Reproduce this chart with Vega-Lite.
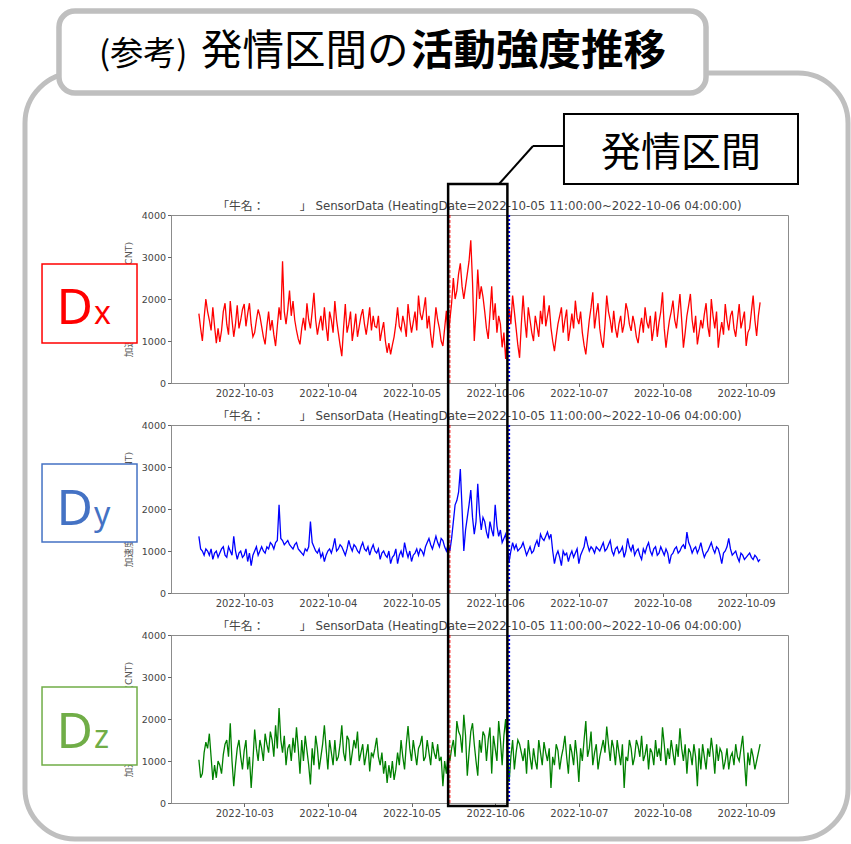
{
  "$schema": "https://vega.github.io/schema/vega-lite/v6.json",
  "background": "white",
  "padding": 0,
  "spacing": 42,
  "bounds": "flush",
  "config": {
    "view": {"stroke": "#8c8c8c", "strokeWidth": 1},
    "axis": {"labelFont": "DejaVu Sans", "labelFontSize": 9.5, "labelColor": "#444", "tickColor": "#666", "tickSize": 3.5, "domain": false, "gridColor": "#e2e2e2", "gridWidth": 0.8, "titleFont": "DejaVu Sans, Noto Sans CJK JP", "titleFontSize": 9.5, "titleFontWeight": "normal", "titleColor": "#555", "labelPadding": 2},
    "axisX": {"labelFontSize": 10}
  },
  "data": {"values": [
    {"t":"2022-10-02T11:00","dx":1650,"dy":1350,"dz":1030},{"t":"2022-10-02T11:30","dx":1300,"dy":1050,"dz":600},
    {"t":"2022-10-02T12:00","dx":1000,"dy":1000,"dz":700},{"t":"2022-10-02T12:30","dx":1550,"dy":900,"dz":1200},
    {"t":"2022-10-02T13:00","dx":2000,"dy":1050,"dz":1450},{"t":"2022-10-02T13:30","dx":1700,"dy":1000,"dz":1300},
    {"t":"2022-10-02T14:00","dx":1500,"dy":900,"dz":1650},{"t":"2022-10-02T14:30","dx":1250,"dy":1050,"dz":1100},
    {"t":"2022-10-02T15:00","dx":1800,"dy":800,"dz":550},{"t":"2022-10-02T15:30","dx":1350,"dy":950,"dz":900},
    {"t":"2022-10-02T16:00","dx":950,"dy":1000,"dz":600},{"t":"2022-10-02T16:30","dx":1300,"dy":850,"dz":1000},
    {"t":"2022-10-02T17:00","dx":980,"dy":950,"dz":900},{"t":"2022-10-02T17:30","dx":1250,"dy":1050,"dz":700},
    {"t":"2022-10-02T18:00","dx":1700,"dy":1100,"dz":1150},{"t":"2022-10-02T18:30","dx":1900,"dy":900,"dz":1400},
    {"t":"2022-10-02T19:00","dx":1400,"dy":850,"dz":1500},{"t":"2022-10-02T19:30","dx":1150,"dy":1100,"dz":1100},
    {"t":"2022-10-02T20:00","dx":1950,"dy":1000,"dz":1900},{"t":"2022-10-02T20:30","dx":1500,"dy":900,"dz":1000},
    {"t":"2022-10-02T21:00","dx":1100,"dy":1350,"dz":400},{"t":"2022-10-02T21:30","dx":1400,"dy":1000,"dz":900},
    {"t":"2022-10-02T22:00","dx":1850,"dy":800,"dz":1300},{"t":"2022-10-02T22:30","dx":1300,"dy":950,"dz":1500},
    {"t":"2022-10-02T23:00","dx":1500,"dy":1000,"dz":1100},{"t":"2022-10-02T23:30","dx":1750,"dy":850,"dz":800},
    {"t":"2022-10-03T00:00","dx":1880,"dy":900,"dz":1250},{"t":"2022-10-03T00:30","dx":1350,"dy":1050,"dz":1500},
    {"t":"2022-10-03T01:00","dx":1650,"dy":750,"dz":800},{"t":"2022-10-03T01:30","dx":1900,"dy":950,"dz":1100},
    {"t":"2022-10-03T02:00","dx":1400,"dy":650,"dz":360},{"t":"2022-10-03T02:30","dx":1100,"dy":900,"dz":1000},
    {"t":"2022-10-03T03:00","dx":1200,"dy":1000,"dz":1750},{"t":"2022-10-03T03:30","dx":1500,"dy":1100,"dz":1300},
    {"t":"2022-10-03T04:00","dx":1750,"dy":900,"dz":1000},{"t":"2022-10-03T04:30","dx":1600,"dy":1000,"dz":1500},
    {"t":"2022-10-03T05:00","dx":1350,"dy":1100,"dz":1300},{"t":"2022-10-03T05:30","dx":1100,"dy":1000,"dz":1000},
    {"t":"2022-10-03T06:00","dx":920,"dy":950,"dz":1650},{"t":"2022-10-03T06:30","dx":1350,"dy":1100,"dz":1400},
    {"t":"2022-10-03T07:00","dx":1700,"dy":1050,"dz":1200},{"t":"2022-10-03T07:30","dx":1250,"dy":1200,"dz":1700},
    {"t":"2022-10-03T08:00","dx":1500,"dy":1150,"dz":1500},{"t":"2022-10-03T08:30","dx":1150,"dy":1050,"dz":1100},
    {"t":"2022-10-03T09:00","dx":880,"dy":1200,"dz":1850},{"t":"2022-10-03T09:30","dx":1350,"dy":1250,"dz":1300},
    {"t":"2022-10-03T10:00","dx":1800,"dy":2100,"dz":2260},{"t":"2022-10-03T10:30","dx":1500,"dy":1300,"dz":1500},
    {"t":"2022-10-03T11:00","dx":2900,"dy":1250,"dz":1200},{"t":"2022-10-03T11:30","dx":1700,"dy":1150,"dz":1600},
    {"t":"2022-10-03T12:00","dx":1400,"dy":1200,"dz":900},{"t":"2022-10-03T12:30","dx":1750,"dy":1250,"dz":1300},
    {"t":"2022-10-03T13:00","dx":2200,"dy":1150,"dz":1400},{"t":"2022-10-03T13:30","dx":1600,"dy":1100,"dz":1000},
    {"t":"2022-10-03T14:00","dx":1950,"dy":1050,"dz":1550},{"t":"2022-10-03T14:30","dx":1500,"dy":1150,"dz":1200},
    {"t":"2022-10-03T15:00","dx":1250,"dy":1200,"dz":1800},{"t":"2022-10-03T15:30","dx":1050,"dy":1050,"dz":1300},
    {"t":"2022-10-03T16:00","dx":920,"dy":1000,"dz":700},{"t":"2022-10-03T16:30","dx":1300,"dy":950,"dz":1500},
    {"t":"2022-10-03T17:00","dx":1550,"dy":900,"dz":1000},{"t":"2022-10-03T17:30","dx":1250,"dy":1050,"dz":1600},
    {"t":"2022-10-03T18:00","dx":1900,"dy":1000,"dz":1250},{"t":"2022-10-03T18:30","dx":1500,"dy":1100,"dz":900},
    {"t":"2022-10-03T19:00","dx":1300,"dy":1700,"dz":440},{"t":"2022-10-03T19:30","dx":1700,"dy":1200,"dz":1300},
    {"t":"2022-10-03T20:00","dx":2150,"dy":1100,"dz":900},{"t":"2022-10-03T20:30","dx":1500,"dy":1000,"dz":1600},
    {"t":"2022-10-03T21:00","dx":1150,"dy":950,"dz":1300},{"t":"2022-10-03T21:30","dx":1400,"dy":1050,"dz":800},
    {"t":"2022-10-03T22:00","dx":1600,"dy":850,"dz":1100},{"t":"2022-10-03T22:30","dx":1250,"dy":950,"dz":1400},
    {"t":"2022-10-03T23:00","dx":1800,"dy":750,"dz":1850},{"t":"2022-10-03T23:30","dx":1350,"dy":900,"dz":1300},
    {"t":"2022-10-04T00:00","dx":1000,"dy":1000,"dz":800},{"t":"2022-10-04T00:30","dx":1700,"dy":1050,"dz":1500},
    {"t":"2022-10-04T01:00","dx":1500,"dy":950,"dz":1200},{"t":"2022-10-04T01:30","dx":1200,"dy":1100,"dz":900},
    {"t":"2022-10-04T02:00","dx":1950,"dy":1300,"dz":1500},{"t":"2022-10-04T02:30","dx":1500,"dy":1000,"dz":1000},
    {"t":"2022-10-04T03:00","dx":1200,"dy":1050,"dz":1100},{"t":"2022-10-04T03:30","dx":900,"dy":1150,"dz":1400},
    {"t":"2022-10-04T04:00","dx":640,"dy":1100,"dz":1850},{"t":"2022-10-04T04:30","dx":1300,"dy":1000,"dz":1200},
    {"t":"2022-10-04T05:00","dx":1880,"dy":900,"dz":1000},{"t":"2022-10-04T05:30","dx":1200,"dy":1050,"dz":1600},
    {"t":"2022-10-04T06:00","dx":1400,"dy":1250,"dz":1500},{"t":"2022-10-04T06:30","dx":1700,"dy":1100,"dz":900},
    {"t":"2022-10-04T07:00","dx":1000,"dy":1000,"dz":1200},{"t":"2022-10-04T07:30","dx":1300,"dy":1150,"dz":1500},
    {"t":"2022-10-04T08:00","dx":1650,"dy":1100,"dz":1300},{"t":"2022-10-04T08:30","dx":1100,"dy":1000,"dz":1700},
    {"t":"2022-10-04T09:00","dx":1350,"dy":950,"dz":1000},{"t":"2022-10-04T09:30","dx":1600,"dy":1100,"dz":1200},
    {"t":"2022-10-04T10:00","dx":1760,"dy":1200,"dz":1400},{"t":"2022-10-04T10:30","dx":1400,"dy":1050,"dz":900},
    {"t":"2022-10-04T11:00","dx":1150,"dy":1000,"dz":1150},{"t":"2022-10-04T11:30","dx":1450,"dy":1100,"dz":1400},
    {"t":"2022-10-04T12:00","dx":1800,"dy":900,"dz":750},{"t":"2022-10-04T12:30","dx":1250,"dy":1050,"dz":1200},
    {"t":"2022-10-04T13:00","dx":1600,"dy":1150,"dz":1100},{"t":"2022-10-04T13:30","dx":1350,"dy":1000,"dz":1300},
    {"t":"2022-10-04T14:00","dx":1320,"dy":950,"dz":1550},{"t":"2022-10-04T14:30","dx":1600,"dy":1050,"dz":1100},
    {"t":"2022-10-04T15:00","dx":1000,"dy":800,"dz":900},{"t":"2022-10-04T15:30","dx":1250,"dy":950,"dz":1200},
    {"t":"2022-10-04T16:00","dx":1450,"dy":1000,"dz":700},{"t":"2022-10-04T16:30","dx":1000,"dy":900,"dz":1000},
    {"t":"2022-10-04T17:00","dx":720,"dy":850,"dz":480},{"t":"2022-10-04T17:30","dx":950,"dy":1000,"dz":900},
    {"t":"2022-10-04T18:00","dx":680,"dy":700,"dz":600},{"t":"2022-10-04T18:30","dx":900,"dy":850,"dz":1000},
    {"t":"2022-10-04T19:00","dx":1100,"dy":900,"dz":550},{"t":"2022-10-04T19:30","dx":1400,"dy":1050,"dz":800},
    {"t":"2022-10-04T20:00","dx":1800,"dy":700,"dz":1200},{"t":"2022-10-04T20:30","dx":1350,"dy":900,"dz":900},
    {"t":"2022-10-04T21:00","dx":1250,"dy":1000,"dz":1500},{"t":"2022-10-04T21:30","dx":1600,"dy":850,"dz":1100},
    {"t":"2022-10-04T22:00","dx":1400,"dy":1200,"dz":800},{"t":"2022-10-04T22:30","dx":1100,"dy":1000,"dz":1400},
    {"t":"2022-10-04T23:00","dx":1880,"dy":850,"dz":1830},{"t":"2022-10-04T23:30","dx":1500,"dy":1000,"dz":1300},
    {"t":"2022-10-05T00:00","dx":1200,"dy":750,"dz":1000},{"t":"2022-10-05T00:30","dx":1450,"dy":900,"dz":1500},
    {"t":"2022-10-05T01:00","dx":1700,"dy":950,"dz":1200},{"t":"2022-10-05T01:30","dx":1250,"dy":1050,"dz":900},
    {"t":"2022-10-05T02:00","dx":2080,"dy":900,"dz":1300},{"t":"2022-10-05T02:30","dx":1650,"dy":1050,"dz":1400},
    {"t":"2022-10-05T03:00","dx":1500,"dy":1000,"dz":1600},{"t":"2022-10-05T03:30","dx":1750,"dy":900,"dz":1000},
    {"t":"2022-10-05T04:00","dx":2040,"dy":1100,"dz":1100},{"t":"2022-10-05T04:30","dx":1300,"dy":1200,"dz":1500},
    {"t":"2022-10-05T05:00","dx":1600,"dy":1300,"dz":1200},{"t":"2022-10-05T05:30","dx":1150,"dy":1150,"dz":900},
    {"t":"2022-10-05T06:00","dx":840,"dy":1050,"dz":1450},{"t":"2022-10-05T06:30","dx":1300,"dy":1200,"dz":1200},
    {"t":"2022-10-05T07:00","dx":1800,"dy":1350,"dz":1050},{"t":"2022-10-05T07:30","dx":1500,"dy":1200,"dz":1400},
    {"t":"2022-10-05T08:00","dx":1300,"dy":1100,"dz":1000},{"t":"2022-10-05T08:30","dx":1000,"dy":1300,"dz":1100},
    {"t":"2022-10-05T09:00","dx":880,"dy":1250,"dz":400},{"t":"2022-10-05T09:30","dx":1300,"dy":1100,"dz":1000},
    {"t":"2022-10-05T10:00","dx":1720,"dy":1000,"dz":700},{"t":"2022-10-05T10:30","dx":1050,"dy":1150,"dz":1200},
    {"t":"2022-10-05T11:00","dx":1500,"dy":1000,"dz":1000},{"t":"2022-10-05T11:30","dx":1900,"dy":1300,"dz":1300},
    {"t":"2022-10-05T12:00","dx":2500,"dy":1700,"dz":1500},{"t":"2022-10-05T12:30","dx":2000,"dy":2100,"dz":1100},
    {"t":"2022-10-05T13:00","dx":2200,"dy":2200,"dz":1950},{"t":"2022-10-05T13:30","dx":2600,"dy":2400,"dz":1700},
    {"t":"2022-10-05T14:00","dx":2850,"dy":2950,"dz":1600},{"t":"2022-10-05T14:30","dx":2300,"dy":2000,"dz":1200},
    {"t":"2022-10-05T15:00","dx":2000,"dy":1000,"dz":2100},{"t":"2022-10-05T15:30","dx":2300,"dy":1500,"dz":1600},
    {"t":"2022-10-05T16:00","dx":2600,"dy":1800,"dz":650},{"t":"2022-10-05T16:30","dx":2900,"dy":2100,"dz":1200},
    {"t":"2022-10-05T17:00","dx":3400,"dy":2450,"dz":1700},{"t":"2022-10-05T17:30","dx":2400,"dy":1800,"dz":1900},
    {"t":"2022-10-05T18:00","dx":1000,"dy":1400,"dz":1400},{"t":"2022-10-05T18:30","dx":1700,"dy":1700,"dz":1000},
    {"t":"2022-10-05T19:00","dx":2700,"dy":2600,"dz":650},{"t":"2022-10-05T19:30","dx":2000,"dy":1900,"dz":1500},
    {"t":"2022-10-05T20:00","dx":2300,"dy":1500,"dz":1200},{"t":"2022-10-05T20:30","dx":2050,"dy":1800,"dz":1700},
    {"t":"2022-10-05T21:00","dx":1700,"dy":1700,"dz":1600},{"t":"2022-10-05T21:30","dx":1300,"dy":1450,"dz":1000},
    {"t":"2022-10-05T22:00","dx":1050,"dy":1300,"dz":1500},{"t":"2022-10-05T22:30","dx":1650,"dy":1700,"dz":1800},
    {"t":"2022-10-05T23:00","dx":2300,"dy":1500,"dz":700},{"t":"2022-10-05T23:30","dx":1500,"dy":1350,"dz":1600},
    {"t":"2022-10-06T00:00","dx":1900,"dy":2100,"dz":1300},{"t":"2022-10-06T00:30","dx":1200,"dy":1600,"dz":1000},
    {"t":"2022-10-06T01:00","dx":1600,"dy":1350,"dz":1950},{"t":"2022-10-06T01:30","dx":1400,"dy":1500,"dz":1500},
    {"t":"2022-10-06T02:00","dx":850,"dy":1200,"dz":900},{"t":"2022-10-06T02:30","dx":1200,"dy":1300,"dz":1600},
    {"t":"2022-10-06T03:00","dx":570,"dy":1400,"dz":2000},{"t":"2022-10-06T03:30","dx":1100,"dy":1100,"dz":1300},
    {"t":"2022-10-06T04:00","dx":1800,"dy":750,"dz":500},{"t":"2022-10-06T04:30","dx":1400,"dy":1000,"dz":1100},
    {"t":"2022-10-06T05:00","dx":2080,"dy":1200,"dz":1500},{"t":"2022-10-06T05:30","dx":1700,"dy":1050,"dz":800},
    {"t":"2022-10-06T06:00","dx":1300,"dy":1150,"dz":1200},{"t":"2022-10-06T06:30","dx":900,"dy":1000,"dz":1500},
    {"t":"2022-10-06T07:00","dx":600,"dy":1050,"dz":1400},{"t":"2022-10-06T07:30","dx":1400,"dy":1100,"dz":1200},
    {"t":"2022-10-06T08:00","dx":2080,"dy":1200,"dz":1000},{"t":"2022-10-06T08:30","dx":1500,"dy":1050,"dz":1300},
    {"t":"2022-10-06T09:00","dx":1080,"dy":900,"dz":700},{"t":"2022-10-06T09:30","dx":1800,"dy":1000,"dz":1500},
    {"t":"2022-10-06T10:00","dx":1500,"dy":1100,"dz":1100},{"t":"2022-10-06T10:30","dx":1200,"dy":950,"dz":800},
    {"t":"2022-10-06T11:00","dx":1000,"dy":1000,"dz":1300},{"t":"2022-10-06T11:30","dx":1600,"dy":1150,"dz":1000},
    {"t":"2022-10-06T12:00","dx":1350,"dy":1250,"dz":800},{"t":"2022-10-06T12:30","dx":1100,"dy":1100,"dz":1500},
    {"t":"2022-10-06T13:00","dx":1720,"dy":1400,"dz":1200},{"t":"2022-10-06T13:30","dx":1400,"dy":1300,"dz":900},
    {"t":"2022-10-06T14:00","dx":2080,"dy":1250,"dz":1450},{"t":"2022-10-06T14:30","dx":1350,"dy":1350,"dz":1200},
    {"t":"2022-10-06T15:00","dx":1600,"dy":1450,"dz":1000},{"t":"2022-10-06T15:30","dx":1850,"dy":1300,"dz":1300},
    {"t":"2022-10-06T16:00","dx":1320,"dy":1400,"dz":360},{"t":"2022-10-06T16:30","dx":1000,"dy":1000,"dz":1100},
    {"t":"2022-10-06T17:00","dx":760,"dy":700,"dz":900},{"t":"2022-10-06T17:30","dx":1100,"dy":900,"dz":1400},
    {"t":"2022-10-06T18:00","dx":1400,"dy":1000,"dz":1250},{"t":"2022-10-06T18:30","dx":1600,"dy":850,"dz":800},
    {"t":"2022-10-06T19:00","dx":1800,"dy":650,"dz":1100},{"t":"2022-10-06T19:30","dx":1200,"dy":1000,"dz":1300},
    {"t":"2022-10-06T20:00","dx":1500,"dy":900,"dz":1600},{"t":"2022-10-06T20:30","dx":1750,"dy":950,"dz":1100},
    {"t":"2022-10-06T21:00","dx":1000,"dy":750,"dz":700},{"t":"2022-10-06T21:30","dx":1300,"dy":900,"dz":1400},
    {"t":"2022-10-06T22:00","dx":1650,"dy":1000,"dz":1200},{"t":"2022-10-06T22:30","dx":1300,"dy":850,"dz":900},
    {"t":"2022-10-06T23:00","dx":1960,"dy":950,"dz":1500},{"t":"2022-10-06T23:30","dx":1550,"dy":1050,"dz":1100},
    {"t":"2022-10-07T00:00","dx":1400,"dy":700,"dz":500},{"t":"2022-10-07T00:30","dx":1700,"dy":900,"dz":1300},
    {"t":"2022-10-07T01:00","dx":1200,"dy":1000,"dz":1000},{"t":"2022-10-07T01:30","dx":900,"dy":1100,"dz":1500},
    {"t":"2022-10-07T02:00","dx":680,"dy":1350,"dz":1950},{"t":"2022-10-07T02:30","dx":1100,"dy":1150,"dz":1100},
    {"t":"2022-10-07T03:00","dx":1500,"dy":1000,"dz":1300},{"t":"2022-10-07T03:30","dx":1800,"dy":1100,"dz":1700},
    {"t":"2022-10-07T04:00","dx":2160,"dy":1050,"dz":900},{"t":"2022-10-07T04:30","dx":1300,"dy":950,"dz":1200},
    {"t":"2022-10-07T05:00","dx":1640,"dy":1100,"dz":1400},{"t":"2022-10-07T05:30","dx":1900,"dy":1050,"dz":800},
    {"t":"2022-10-07T06:00","dx":1300,"dy":1000,"dz":1100},{"t":"2022-10-07T06:30","dx":1000,"dy":1100,"dz":1300},
    {"t":"2022-10-07T07:00","dx":840,"dy":1200,"dz":1500},{"t":"2022-10-07T07:30","dx":1400,"dy":1000,"dz":1200},
    {"t":"2022-10-07T08:00","dx":2080,"dy":1050,"dz":1820},{"t":"2022-10-07T08:30","dx":1700,"dy":1150,"dz":1400},
    {"t":"2022-10-07T09:00","dx":1500,"dy":1250,"dz":1000},{"t":"2022-10-07T09:30","dx":1200,"dy":1000,"dz":1500},
    {"t":"2022-10-07T10:00","dx":1720,"dy":900,"dz":1300},{"t":"2022-10-07T10:30","dx":1300,"dy":1050,"dz":900},
    {"t":"2022-10-07T11:00","dx":1080,"dy":1100,"dz":1500},{"t":"2022-10-07T11:30","dx":1400,"dy":950,"dz":1200},
    {"t":"2022-10-07T12:00","dx":1600,"dy":1000,"dz":900},{"t":"2022-10-07T12:30","dx":1200,"dy":1100,"dz":1400},
    {"t":"2022-10-07T13:00","dx":1400,"dy":850,"dz":360},{"t":"2022-10-07T13:30","dx":1900,"dy":1000,"dz":1100},
    {"t":"2022-10-07T14:00","dx":1720,"dy":1300,"dz":1000},{"t":"2022-10-07T14:30","dx":1400,"dy":1100,"dz":1500},
    {"t":"2022-10-07T15:00","dx":1240,"dy":1000,"dz":1300},{"t":"2022-10-07T15:30","dx":1600,"dy":1150,"dz":900},
    {"t":"2022-10-07T16:00","dx":1400,"dy":900,"dz":1100},{"t":"2022-10-07T16:30","dx":1100,"dy":1000,"dz":1500},
    {"t":"2022-10-07T17:00","dx":950,"dy":1050,"dz":1350},{"t":"2022-10-07T17:30","dx":1300,"dy":900,"dz":1100},
    {"t":"2022-10-07T18:00","dx":1550,"dy":800,"dz":1600},{"t":"2022-10-07T18:30","dx":1200,"dy":1050,"dz":1000},
    {"t":"2022-10-07T19:00","dx":1800,"dy":950,"dz":1150},{"t":"2022-10-07T19:30","dx":1450,"dy":1100,"dz":1400},
    {"t":"2022-10-07T20:00","dx":1300,"dy":1200,"dz":800},{"t":"2022-10-07T20:30","dx":1600,"dy":1000,"dz":1300},
    {"t":"2022-10-07T21:00","dx":1000,"dy":900,"dz":1200},{"t":"2022-10-07T21:30","dx":1300,"dy":1050,"dz":900},
    {"t":"2022-10-07T22:00","dx":1700,"dy":1100,"dz":1500},{"t":"2022-10-07T22:30","dx":1100,"dy":900,"dz":1100},
    {"t":"2022-10-07T23:00","dx":1450,"dy":950,"dz":1300},{"t":"2022-10-07T23:30","dx":1700,"dy":1100,"dz":1000},
    {"t":"2022-10-08T00:00","dx":2160,"dy":1000,"dz":1800},{"t":"2022-10-08T00:30","dx":1300,"dy":900,"dz":1400},
    {"t":"2022-10-08T01:00","dx":840,"dy":1050,"dz":900},{"t":"2022-10-08T01:30","dx":1200,"dy":950,"dz":1300},
    {"t":"2022-10-08T02:00","dx":1500,"dy":700,"dz":1050},{"t":"2022-10-08T02:30","dx":1700,"dy":900,"dz":1500},
    {"t":"2022-10-08T03:00","dx":1960,"dy":950,"dz":1200},{"t":"2022-10-08T03:30","dx":1500,"dy":1050,"dz":900},
    {"t":"2022-10-08T04:00","dx":1300,"dy":1100,"dz":1400},{"t":"2022-10-08T04:30","dx":1700,"dy":950,"dz":1100},
    {"t":"2022-10-08T05:00","dx":2120,"dy":1000,"dz":1780},{"t":"2022-10-08T05:30","dx":1500,"dy":1100,"dz":1300},
    {"t":"2022-10-08T06:00","dx":840,"dy":1150,"dz":1000},{"t":"2022-10-08T06:30","dx":1200,"dy":1050,"dz":1400},
    {"t":"2022-10-08T07:00","dx":1600,"dy":1450,"dz":700},{"t":"2022-10-08T07:30","dx":1850,"dy":1200,"dz":1300},
    {"t":"2022-10-08T08:00","dx":2120,"dy":1100,"dz":1200},{"t":"2022-10-08T08:30","dx":1500,"dy":950,"dz":900},
    {"t":"2022-10-08T09:00","dx":1200,"dy":1050,"dz":1400},{"t":"2022-10-08T09:30","dx":1600,"dy":1100,"dz":1100},
    {"t":"2022-10-08T10:00","dx":920,"dy":950,"dz":400},{"t":"2022-10-08T10:30","dx":1200,"dy":1050,"dz":1300},
    {"t":"2022-10-08T11:00","dx":1500,"dy":1200,"dz":800},{"t":"2022-10-08T11:30","dx":1300,"dy":1000,"dz":1400},
    {"t":"2022-10-08T12:00","dx":1640,"dy":850,"dz":1100},{"t":"2022-10-08T12:30","dx":1900,"dy":950,"dz":800},
    {"t":"2022-10-08T13:00","dx":1350,"dy":1000,"dz":1300},{"t":"2022-10-08T13:30","dx":1100,"dy":1100,"dz":1100},
    {"t":"2022-10-08T14:00","dx":2000,"dy":1200,"dz":1550},{"t":"2022-10-08T14:30","dx":1600,"dy":1050,"dz":1200},
    {"t":"2022-10-08T15:00","dx":1300,"dy":950,"dz":700},{"t":"2022-10-08T15:30","dx":1700,"dy":1100,"dz":1400},
    {"t":"2022-10-08T16:00","dx":840,"dy":1050,"dz":1000},{"t":"2022-10-08T16:30","dx":1200,"dy":900,"dz":1300},
    {"t":"2022-10-08T17:00","dx":1450,"dy":700,"dz":1200},{"t":"2022-10-08T17:30","dx":1150,"dy":950,"dz":800},
    {"t":"2022-10-08T18:00","dx":1880,"dy":1000,"dz":1000},{"t":"2022-10-08T18:30","dx":1500,"dy":1100,"dz":1300},
    {"t":"2022-10-08T19:00","dx":1250,"dy":1300,"dz":800},{"t":"2022-10-08T19:30","dx":1600,"dy":1050,"dz":1100},
    {"t":"2022-10-08T20:00","dx":1720,"dy":900,"dz":1200},{"t":"2022-10-08T20:30","dx":1300,"dy":950,"dz":900},
    {"t":"2022-10-08T21:00","dx":1100,"dy":1000,"dz":1400},{"t":"2022-10-08T21:30","dx":1500,"dy":850,"dz":1100},
    {"t":"2022-10-08T22:00","dx":1880,"dy":750,"dz":1000},{"t":"2022-10-08T22:30","dx":1300,"dy":950,"dz":1300},
    {"t":"2022-10-08T23:00","dx":1500,"dy":900,"dz":1600},{"t":"2022-10-08T23:30","dx":1700,"dy":800,"dz":1000},
    {"t":"2022-10-09T00:00","dx":880,"dy":850,"dz":400},{"t":"2022-10-09T00:30","dx":1200,"dy":900,"dz":1200},
    {"t":"2022-10-09T01:00","dx":1300,"dy":950,"dz":900},{"t":"2022-10-09T01:30","dx":1700,"dy":850,"dz":1300},
    {"t":"2022-10-09T02:00","dx":2080,"dy":800,"dz":1100},{"t":"2022-10-09T02:30","dx":1500,"dy":900,"dz":800},
    {"t":"2022-10-09T03:00","dx":1120,"dy":850,"dz":1000},{"t":"2022-10-09T03:30","dx":1600,"dy":750,"dz":1200},
    {"t":"2022-10-09T04:00","dx":1920,"dy":800,"dz":1400}
  ]},
  "vconcat": [
    {
      "width": 617, "height": 168,
      "layer": [
        {"data": {"values": [{}]}, "mark": {"type": "rect", "fill": "white", "fillOpacity": 0},
         "encoding": {"x": {"datum": {"year": 2022, "month": 9, "date": 30, "hours": 2, "minutes": 14}, "type": "temporal"}, "x2": {"datum": {"year": 2022, "month": 10, "date": 10, "hours": 6, "minutes": 21}}, "y": {"datum": 9095, "type": "quantitative"}, "y2": {"datum": -11000}}},
        {"data": {"values": [{}]}, "mark": {"type": "rect", "fill": null, "fillOpacity": 0, "stroke": "#bfbfbf", "strokeWidth": 5, "cornerRadius": 50},
         "encoding": {"x": {"datum": {"year": 2022, "month": 9, "date": 30, "hours": 9, "minutes": 7}, "type": "temporal"}, "x2": {"datum": {"year": 2022, "month": 10, "date": 10, "hours": 5, "minutes": 13}}, "y": {"datum": 7381, "type": "quantitative"}, "y2": {"datum": -10857}}},
        {"data": {"values": [{}]}, "mark": {"type": "rect", "fill": "white", "stroke": "#bfbfbf", "strokeWidth": 5.5, "cornerRadius": 16},
         "encoding": {"x": {"datum": {"year": 2022, "month": 9, "date": 30, "hours": 18, "minutes": 52}, "type": "temporal"}, "x2": {"datum": {"year": 2022, "month": 10, "date": 8, "hours": 12, "minutes": 29}}, "y": {"datum": 8857, "type": "quantitative"}, "y2": {"datum": 6905}}},
        {"data": {"values": [{}]}, "mark": {"type": "text", "text": "(参考)", "font": "Noto Sans CJK JP", "fontSize": 33, "align": "left", "baseline": "alphabetic", "color": "black"},
         "encoding": {"x": {"datum": {"year": 2022, "month": 10, "date": 1, "hours": 6, "minutes": 21}, "type": "temporal"}, "y": {"datum": 7571, "type": "quantitative"}}},
        {"data": {"values": [{}]}, "mark": {"type": "text", "text": "発情区間の", "font": "Noto Sans CJK JP", "fontSize": 41.5, "align": "left", "baseline": "alphabetic", "color": "black"},
         "encoding": {"x": {"datum": {"year": 2022, "month": 10, "date": 2, "hours": 11, "minutes": 36}, "type": "temporal"}, "y": {"datum": 7571, "type": "quantitative"}}},
        {"data": {"values": [{}]}, "mark": {"type": "text", "text": "活動強度推移", "font": "Noto Sans CJK JP", "fontSize": 42.5, "fontWeight": "bold", "align": "left", "baseline": "alphabetic", "color": "black"},
         "encoding": {"x": {"datum": {"year": 2022, "month": 10, "date": 4, "hours": 23, "minutes": 51}, "type": "temporal"}, "y": {"datum": 7571, "type": "quantitative"}}},
        {"data": {"values": [{}]}, "mark": {"type": "rule", "color": "black", "strokeWidth": 2},
         "encoding": {"x": {"datum": {"year": 2022, "month": 10, "date": 6, "hours": 10, "minutes": 51}, "type": "temporal"}, "x2": {"datum": {"year": 2022, "month": 10, "date": 6, "hours": 19, "minutes": 44}}, "y": {"datum": 5643, "type": "quantitative"}}},
        {"data": {"values": [{}]}, "mark": {"type": "rule", "color": "black", "strokeWidth": 2},
         "encoding": {"x": {"datum": {"year": 2022, "month": 10, "date": 6, "hours": 1, "minutes": 6}, "type": "temporal"}, "x2": {"datum": {"year": 2022, "month": 10, "date": 6, "hours": 10, "minutes": 51}}, "y": {"datum": 4738, "type": "quantitative"}, "y2": {"datum": 5643}}},
        {"data": {"values": [{}]}, "mark": {"type": "rect", "fill": "white", "stroke": "black", "strokeWidth": 2},
         "encoding": {"x": {"datum": {"year": 2022, "month": 10, "date": 6, "hours": 19, "minutes": 44}, "type": "temporal"}, "x2": {"datum": {"year": 2022, "month": 10, "date": 9, "hours": 14, "minutes": 52}}, "y": {"datum": 6405, "type": "quantitative"}, "y2": {"datum": 4738}}},
        {"data": {"values": [{}]}, "mark": {"type": "text", "text": "発情区間", "font": "Noto Sans CJK JP", "fontSize": 40, "align": "center", "baseline": "alphabetic", "color": "black"},
         "encoding": {"x": {"datum": {"year": 2022, "month": 10, "date": 8, "hours": 5, "minutes": 18}, "type": "temporal"}, "y": {"datum": 5167, "type": "quantitative"}}},
        {"data": {"values": [{}]}, "mark": {"type": "text", "text": "「牛名：　　　」 SensorData (HeatingDate=2022-10-05 11:00:00~2022-10-06 04:00:00)", "font": "DejaVu Sans, Noto Sans CJK JP", "fontSize": 11.8, "align": "center", "baseline": "alphabetic", "color": "#444"},
         "encoding": {"x": {"datum": {"year": 2022, "month": 10, "date": 5, "hours": 19, "minutes": 30}, "type": "temporal"}, "y": {"datum": 4119, "type": "quantitative"}}},
        {"mark": {"type": "line", "color": "#ff0000", "strokeWidth": 1.3},
         "encoding": {
           "x": {"field": "t", "type": "temporal", "scale": {"domain": [{"year": 2022, "month": 10, "date": 2, "hours": 3}, {"year": 2022, "month": 10, "date": 9, "hours": 12}], "nice": false},
                 "axis": {"title": null, "format": "%Y-%m-%d", "values": [{"year": 2022, "month": 10, "date": 3}, {"year": 2022, "month": 10, "date": 4}, {"year": 2022, "month": 10, "date": 5}, {"year": 2022, "month": 10, "date": 6}, {"year": 2022, "month": 10, "date": 7}, {"year": 2022, "month": 10, "date": 8}, {"year": 2022, "month": 10, "date": 9}]}},
           "y": {"field": "dx", "type": "quantitative", "scale": {"domain": [0, 4000], "nice": false, "zero": false},
                 "axis": {"title": "加速度合成値の平均 (CNT)", "format": "d", "values": [0, 500, 1000, 1500, 2000, 2500, 3000, 3500, 4000], "titlePadding": 8}}
         }},
        {"data": {"values": [{}]}, "mark": {"type": "rule", "color": "#ff0000", "strokeWidth": 1, "strokeDash": [3, 2]},
         "encoding": {"x": {"datum": {"year": 2022, "month": 10, "date": 5, "hours": 11}, "type": "temporal"}}},
        {"data": {"values": [{}]}, "mark": {"type": "rule", "color": "#0000ff", "strokeWidth": 2, "strokeDash": [2, 2]},
         "encoding": {"x": {"datum": {"year": 2022, "month": 10, "date": 6, "hours": 4}, "type": "temporal"}}},
        {"data": {"values": [{}]}, "mark": {"type": "rect", "fill": "white", "stroke": "#ff0000", "strokeWidth": 1.5},
         "encoding": {"x": {"datum": {"year": 2022, "month": 9, "date": 30, "hours": 14, "minutes": 0}, "type": "temporal"}, "x2": {"datum": {"year": 2022, "month": 10, "date": 1, "hours": 17, "minutes": 15}}, "y": {"datum": 2833, "type": "quantitative"}, "y2": {"datum": 952}}},
        {"data": {"values": [{}]}, "mark": {"type": "text", "text": "D", "font": "Noto Sans", "fontSize": 50, "align": "right", "baseline": "alphabetic", "color": "#ff0000"},
         "encoding": {"x": {"datum": {"year": 2022, "month": 10, "date": 1, "hours": 4, "minutes": 37}, "type": "temporal"}, "y": {"datum": 1393, "type": "quantitative"}}},
        {"data": {"values": [{}]}, "mark": {"type": "text", "text": "x", "font": "Noto Sans", "fontSize": 32, "align": "left", "baseline": "alphabetic", "color": "#ff0000"},
         "encoding": {"x": {"datum": {"year": 2022, "month": 10, "date": 1, "hours": 4, "minutes": 55}, "type": "temporal"}, "y": {"datum": 1393, "type": "quantitative"}}}
      ]
    },
    {
      "width": 617, "height": 168,
      "layer": [
        {"data": {"values": [{}]}, "mark": {"type": "text", "text": "「牛名：　　　」 SensorData (HeatingDate=2022-10-05 11:00:00~2022-10-06 04:00:00)", "font": "DejaVu Sans, Noto Sans CJK JP", "fontSize": 11.8, "align": "center", "baseline": "alphabetic", "color": "#444"},
         "encoding": {"x": {"datum": {"year": 2022, "month": 10, "date": 5, "hours": 19, "minutes": 30}, "type": "temporal"}, "y": {"datum": 4119, "type": "quantitative"}}},
        {"mark": {"type": "line", "color": "#0000ff", "strokeWidth": 1.3},
         "encoding": {
           "x": {"field": "t", "type": "temporal", "scale": {"domain": [{"year": 2022, "month": 10, "date": 2, "hours": 3}, {"year": 2022, "month": 10, "date": 9, "hours": 12}], "nice": false},
                 "axis": {"title": null, "format": "%Y-%m-%d", "values": [{"year": 2022, "month": 10, "date": 3}, {"year": 2022, "month": 10, "date": 4}, {"year": 2022, "month": 10, "date": 5}, {"year": 2022, "month": 10, "date": 6}, {"year": 2022, "month": 10, "date": 7}, {"year": 2022, "month": 10, "date": 8}, {"year": 2022, "month": 10, "date": 9}]}},
           "y": {"field": "dy", "type": "quantitative", "scale": {"domain": [0, 4000], "nice": false, "zero": false},
                 "axis": {"title": "加速度合成値の平均 (CNT)", "format": "d", "values": [0, 500, 1000, 1500, 2000, 2500, 3000, 3500, 4000], "titlePadding": 8}}
         }},
        {"data": {"values": [{}]}, "mark": {"type": "rule", "color": "#ff0000", "strokeWidth": 1, "strokeDash": [3, 2]},
         "encoding": {"x": {"datum": {"year": 2022, "month": 10, "date": 5, "hours": 11}, "type": "temporal"}}},
        {"data": {"values": [{}]}, "mark": {"type": "rule", "color": "#0000ff", "strokeWidth": 2, "strokeDash": [2, 2]},
         "encoding": {"x": {"datum": {"year": 2022, "month": 10, "date": 6, "hours": 4}, "type": "temporal"}}},
        {"data": {"values": [{}]}, "mark": {"type": "rect", "fill": "white", "stroke": "#4472c4", "strokeWidth": 1.5},
         "encoding": {"x": {"datum": {"year": 2022, "month": 9, "date": 30, "hours": 14, "minutes": 0}, "type": "temporal"}, "x2": {"datum": {"year": 2022, "month": 10, "date": 1, "hours": 17, "minutes": 15}}, "y": {"datum": 3071, "type": "quantitative"}, "y2": {"datum": 1214}}},
        {"data": {"values": [{}]}, "mark": {"type": "text", "text": "D", "font": "Noto Sans", "fontSize": 50, "align": "right", "baseline": "alphabetic", "color": "#4472c4"},
         "encoding": {"x": {"datum": {"year": 2022, "month": 10, "date": 1, "hours": 4, "minutes": 37}, "type": "temporal"}, "y": {"datum": 1619, "type": "quantitative"}}},
        {"data": {"values": [{}]}, "mark": {"type": "text", "text": "y", "font": "Noto Sans", "fontSize": 32, "align": "left", "baseline": "alphabetic", "color": "#4472c4"},
         "encoding": {"x": {"datum": {"year": 2022, "month": 10, "date": 1, "hours": 4, "minutes": 55}, "type": "temporal"}, "y": {"datum": 1619, "type": "quantitative"}}}
      ]
    },
    {
      "width": 617, "height": 168,
      "layer": [
        {"data": {"values": [{}]}, "mark": {"type": "text", "text": "「牛名：　　　」 SensorData (HeatingDate=2022-10-05 11:00:00~2022-10-06 04:00:00)", "font": "DejaVu Sans, Noto Sans CJK JP", "fontSize": 11.8, "align": "center", "baseline": "alphabetic", "color": "#444"},
         "encoding": {"x": {"datum": {"year": 2022, "month": 10, "date": 5, "hours": 19, "minutes": 30}, "type": "temporal"}, "y": {"datum": 4119, "type": "quantitative"}}},
        {"mark": {"type": "line", "color": "#008000", "strokeWidth": 1.3},
         "encoding": {
           "x": {"field": "t", "type": "temporal", "scale": {"domain": [{"year": 2022, "month": 10, "date": 2, "hours": 3}, {"year": 2022, "month": 10, "date": 9, "hours": 12}], "nice": false},
                 "axis": {"title": null, "format": "%Y-%m-%d", "values": [{"year": 2022, "month": 10, "date": 3}, {"year": 2022, "month": 10, "date": 4}, {"year": 2022, "month": 10, "date": 5}, {"year": 2022, "month": 10, "date": 6}, {"year": 2022, "month": 10, "date": 7}, {"year": 2022, "month": 10, "date": 8}, {"year": 2022, "month": 10, "date": 9}]}},
           "y": {"field": "dz", "type": "quantitative", "scale": {"domain": [0, 4000], "nice": false, "zero": false},
                 "axis": {"title": "加速度合成値の平均 (CNT)", "format": "d", "values": [0, 500, 1000, 1500, 2000, 2500, 3000, 3500, 4000], "titlePadding": 8}}
         }},
        {"data": {"values": [{}]}, "mark": {"type": "rule", "color": "#ff0000", "strokeWidth": 1, "strokeDash": [3, 2]},
         "encoding": {"x": {"datum": {"year": 2022, "month": 10, "date": 5, "hours": 11}, "type": "temporal"}}},
        {"data": {"values": [{}]}, "mark": {"type": "rule", "color": "#0000ff", "strokeWidth": 2, "strokeDash": [2, 2]},
         "encoding": {"x": {"datum": {"year": 2022, "month": 10, "date": 6, "hours": 4}, "type": "temporal"}}},
        {"data": {"values": [{}]}, "mark": {"type": "rect", "fill": "white", "stroke": "#70ad47", "strokeWidth": 1.5},
         "encoding": {"x": {"datum": {"year": 2022, "month": 9, "date": 30, "hours": 14, "minutes": 0}, "type": "temporal"}, "x2": {"datum": {"year": 2022, "month": 10, "date": 1, "hours": 17, "minutes": 15}}, "y": {"datum": 2762, "type": "quantitative"}, "y2": {"datum": 905}}},
        {"data": {"values": [{}]}, "mark": {"type": "text", "text": "D", "font": "Noto Sans", "fontSize": 50, "align": "right", "baseline": "alphabetic", "color": "#70ad47"},
         "encoding": {"x": {"datum": {"year": 2022, "month": 10, "date": 1, "hours": 4, "minutes": 37}, "type": "temporal"}, "y": {"datum": 1310, "type": "quantitative"}}},
        {"data": {"values": [{}]}, "mark": {"type": "text", "text": "z", "font": "Noto Sans", "fontSize": 32, "align": "left", "baseline": "alphabetic", "color": "#70ad47"},
         "encoding": {"x": {"datum": {"year": 2022, "month": 10, "date": 1, "hours": 4, "minutes": 55}, "type": "temporal"}, "y": {"datum": 1310, "type": "quantitative"}}},
        {"data": {"values": [{}]}, "mark": {"type": "rect", "fill": null, "fillOpacity": 0, "stroke": "black", "strokeWidth": 2.5},
         "encoding": {"x": {"datum": {"year": 2022, "month": 10, "date": 5, "hours": 10, "minutes": 30}, "type": "temporal"}, "x2": {"datum": {"year": 2022, "month": 10, "date": 6, "hours": 3, "minutes": 30}}, "y": {"datum": 14738, "type": "quantitative"}, "y2": {"datum": -71}}}
      ]
    }
  ]
}
